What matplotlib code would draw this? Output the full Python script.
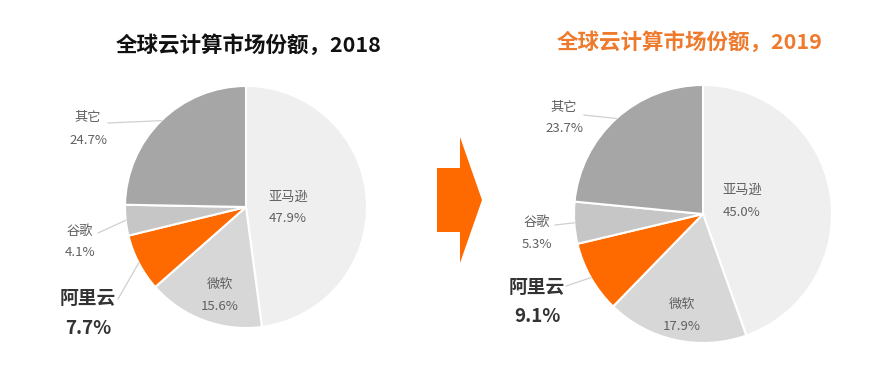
import numpy as np
import matplotlib.pyplot as plt
from matplotlib.patches import Polygon

plt.rcParams['font.family'] = ['Noto Sans CJK SC', 'DejaVu Sans']

# data
companies = ["亚马逊", "微软", "阿里云", "谷歌", "其它"]
share_2018 = [47.9, 15.6, 7.7, 4.1, 24.7]
share_2019 = [45.0, 17.9, 9.1, 5.3, 23.7]
titles = ["全球云计算市场份额，2018", "全球云计算市场份额，2019"]
slice_colors = ["#EFEFEF", "#D7D7D7", "#FF6A00", "#C6C6C6", "#A6A6A6"]

W, H = 877, 378


def P(x, y):
    # pixel coords (top-left origin) -> data coords
    return x, H - y


fig = plt.figure(figsize=(W / 100, H / 100), dpi=100)
ax = fig.add_axes([0, 0, 1, 1])

# layout per pie: centre, radius, title pos/colour, label positions (block centres)
layouts = [
    dict(center=(246, 207), r=121, title=(249, 45), tcolor="#111111",
         labels={"亚马逊": (288, 208), "微软": (220, 295), "阿里云": (88, 313),
                 "谷歌": (80, 242), "其它": (88, 129)},
         ends={"阿里云": (118, 299), "谷歌": (98, 233), "其它": (108, 123)}),
    dict(center=(703, 214), r=129, title=(690, 42), tcolor="#EE7A2E",
         labels={"亚马逊": (742, 201), "微软": (682, 315), "阿里云": (537, 302),
                 "谷歌": (537, 233), "其它": (564, 118)},
         ends={"阿里云": (566, 286), "谷歌": (555, 225), "其它": (584, 115)}),
]

for values, title, lay in zip([share_2018, share_2019], titles, layouts):
    cx, cy = P(*lay["center"])
    wedges, _ = ax.pie(values, colors=slice_colors, startangle=90, counterclock=False,
                       center=(cx, cy), radius=lay["r"],
                       wedgeprops=dict(edgecolor="white", linewidth=1.5))
    ax.text(*P(*lay["title"]), title, ha="center", va="center", fontsize=15.5,
            fontweight="bold", color=lay["tcolor"])

    for name, val, w in zip(companies, values, wedges):
        lx, ly = P(*lay["labels"][name])
        big = name == "阿里云"
        if big:
            fs, dy, col, fw = 13.5, 15, "#333333", "bold"
        else:
            fs, dy, col, fw = 9.5, 11, "#606060", "normal"
        ax.text(lx, ly + dy, name, ha="center", va="center", fontsize=fs,
                color=col, fontweight=fw)
        ax.text(lx, ly - dy, f"{val:.1f}%", ha="center", va="center", fontsize=fs,
                color=col, fontweight=fw)
        if name in lay["ends"]:
            mid = np.deg2rad((w.theta1 + w.theta2) / 2)
            sx = cx + lay["r"] * np.cos(mid)
            sy = cy + lay["r"] * np.sin(mid)
            ex, ey = P(*lay["ends"][name])
            ax.plot([sx, ex], [sy, ey], color="#D0D0D0", lw=0.9)

# arrow between the two pies
arrow_pts = [P(437, 168), P(460, 168), P(460, 137), P(482, 200),
             P(460, 263), P(460, 232), P(437, 232)]
ax.add_patch(Polygon(arrow_pts, closed=True, color="#FF6A00", lw=0))

ax.set_xlim(0, W)
ax.set_ylim(0, H)
ax.set_aspect("equal")
ax.axis("off")

fig.savefig("out.png", dpi=100, facecolor="white")
